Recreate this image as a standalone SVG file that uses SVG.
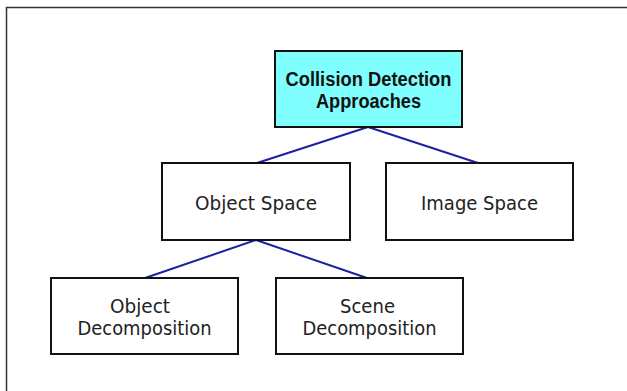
<svg xmlns="http://www.w3.org/2000/svg" width="627" height="391" viewBox="0 0 627 391">
  <style>
    .box { fill: #ffffff; stroke: #111111; stroke-width: 2; }
    .root { fill: #80ffff; stroke: #111111; stroke-width: 2; }
    .lbl { font-family: "DejaVu Sans", sans-serif; font-size: 19px; fill: #222222; text-anchor: middle; }
    .title { font-family: "Liberation Sans", Arial, sans-serif; font-size: 19.5px; font-weight: bold; fill: #111111; text-anchor: middle; }
    .link { stroke: #1f1fa3; stroke-width: 2; fill: none; }
  </style>
  <rect width="627" height="391" fill="#ffffff"/>
  <!-- frame -->
  <path d="M627 7.5 H6.5 V391" fill="none" stroke="#333333" stroke-width="1.5"/>

  <g id="connectors">
    <line class="link" x1="368" y1="127" x2="257" y2="163"/>
    <line class="link" x1="368" y1="127" x2="478" y2="163"/>
    <line class="link" x1="256" y1="240" x2="145" y2="278"/>
    <line class="link" x1="256" y1="240" x2="367" y2="278"/>
  </g>

  <g id="collision-detection">
    <rect class="root" x="275" y="51" width="187" height="76"/>
    <text class="title" x="368.5" y="86" textLength="166" lengthAdjust="spacingAndGlyphs">Collision Detection</text>
    <text class="title" x="368.5" y="108" textLength="105" lengthAdjust="spacingAndGlyphs">Approaches</text>
  </g>

  <g id="object-space">
    <rect class="box" x="162" y="163" width="188" height="77"/>
    <text class="lbl" x="256" y="210" textLength="122" lengthAdjust="spacingAndGlyphs">Object Space</text>
  </g>

  <g id="image-space">
    <rect class="box" x="386" y="163" width="187" height="77"/>
    <text class="lbl" x="479.5" y="210" textLength="117" lengthAdjust="spacingAndGlyphs">Image Space</text>
  </g>

  <g id="object-decomposition">
    <rect class="box" x="51" y="278" width="187" height="76"/>
    <text class="lbl" x="140" y="313" textLength="60" lengthAdjust="spacingAndGlyphs">Object</text>
    <text class="lbl" x="144.5" y="335" textLength="134" lengthAdjust="spacingAndGlyphs">Decomposition</text>
  </g>

  <g id="scene-decomposition">
    <rect class="box" x="276" y="278" width="187" height="76"/>
    <text class="lbl" x="367.5" y="313" textLength="55" lengthAdjust="spacingAndGlyphs">Scene</text>
    <text class="lbl" x="369.5" y="335" textLength="134" lengthAdjust="spacingAndGlyphs">Decomposition</text>
  </g>
</svg>
